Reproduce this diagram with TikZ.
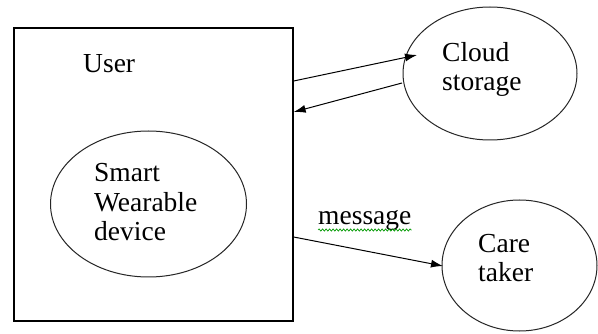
\documentclass[tikz,border=0pt]{standalone}
\usepackage{fontspec}
\setmainfont{Liberation Serif}
\newfontfamily\labelfont{Liberation Serif}
\usetikzlibrary{shapes.geometric,arrows.meta,calc,decorations.pathmorphing}

\tikzset{
  lbl/.style={anchor=base west, inner sep=0pt, font=\labelfont\fontsize{27.5}{30}\selectfont, text=black},
  bubble/.style={ellipse, draw=black!85, line width=1pt, inner sep=0pt},
  arr/.style={draw=black, line width=1pt, -{Latex[length=12pt,width=8pt]}},
  squiggle/.style={draw=green!60!black, line width=0.7pt, decorate,
    decoration={snake, amplitude=1.1pt, segment length=3.5pt}}
}

\begin{document}
\begin{tikzpicture}[x=1pt, y=-1pt]
  \useasboundingbox[fill=white] (0,0) rectangle (598,334);

  % user boundary
  \node[draw=black, line width=1.3pt, minimum width=279pt, minimum height=293pt, inner sep=0pt]
    (box) at (153.5,174.5) {};
  \node[lbl] (user) at (83,73) {User};

  % wearable device inside the user box
  \node[bubble, minimum width=196pt, minimum height=146pt] (wear) at (148.5,204) {};
  \node[lbl] (wear1) at (94,182) {Smart};
  \node[lbl] (wear2) at (94,212) {Wearable};
  \node[lbl] (wear3) at (94,241) {device};

  % cloud storage
  \node[bubble, minimum width=174pt, minimum height=133pt] (cloud) at (490,73.5) {};
  \node[lbl] (cloud1) at (442,62) {Cloud};
  \node[lbl] (cloud2) at (442,91) {storage};

  % care taker
  \node[bubble, minimum width=155pt, minimum height=131pt] (care) at (519.5,265.5) {};
  \node[lbl] (care1) at (478,253) {Care};
  \node[lbl] (care2) at (478,282) {taker};

  % data exchange
  \coordinate (upOut) at (box.east |- 0,81);
  \coordinate (upIn)  at ($(cloud.center)+(-73,-18.5)$);
  \coordinate (dnOut) at ($(cloud.center)+(-88,9.5)$);
  \coordinate (dnIn)  at (box.east |- 0,112);
  \coordinate (msgOut) at (box.east |- 0,237);
  \coordinate (msgIn)  at ($(care.center)+(-76.5,0.5)$);
  \draw[arr] (upOut) -- (upIn);
  \draw[arr] (dnOut) -- (dnIn);
  \draw[arr] (msgOut) -- (msgIn);

  \node[lbl] (msg) at (318,225) {message};
  \draw[squiggle] ($(msg.base west)+(0,5)$) -- ($(msg.base east)+(0,5)$);
\end{tikzpicture}
\end{document}
